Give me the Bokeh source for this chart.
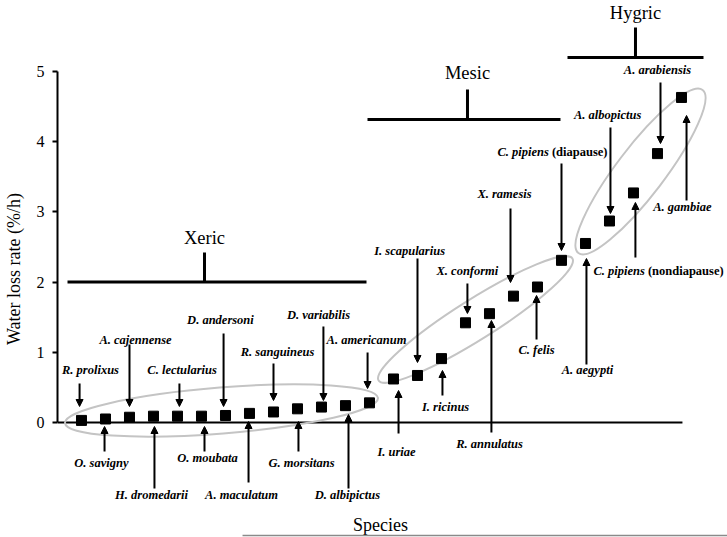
from bokeh.plotting import figure
from bokeh.models import ColumnDataSource, Arrow, NormalHead, FixedTicker, Range1d
from bokeh.embed import file_html
from bokeh.resources import INLINE
from bokeh.core.properties import value

# ---------------- data ----------------
species = ["R. prolixus", "O. savigny", "A. cajennense", "H. dromedarii", "C. lectularius",
           "O. moubata", "D. andersoni", "A. maculatum", "R. sanguineus", "G. morsitans",
           "D. variabilis", "D. albipictus", "A. americanum", "I. uriae", "I. scapularius",
           "I. ricinus", "X. conformi", "R. annulatus", "X. ramesis", "C. felis",
           "C. pipiens", "A. aegypti", "A. albopictus", "C. pipiens", "A. arabiensis",
           "A. gambiae"]
qualifier = [""] * 20 + ["(diapause)", "", "", "(nondiapause)", "", ""]
water_loss_rate = [0.03, 0.05, 0.075, 0.09, 0.09, 0.09, 0.10, 0.13, 0.15, 0.195,
                   0.22, 0.24, 0.28, 0.62, 0.67, 0.91, 1.42, 1.55, 1.80, 1.93,
                   2.31, 2.55, 2.87, 3.27, 3.83, 4.63]
habitats = ["Xeric", "Mesic", "Hygric"]
y_ticks = [0, 1, 2, 3, 4, 5]

# ---------------- annotation layout (data units) ----------------
# label x offset (index units), label y, arrow x offset, arrow tail y, arrow tip y
label_layout = [
    (0.375, 0.741, -0.08, 0.556, 0.228),
    (-0.17, -0.570, -0.04, -0.413, -0.057),
    (0.25, 1.182, 0.0, 1.111, 0.228),
    (-0.08, -1.026, 0.04, -0.940, -0.057),
    (0.19, 0.741, 0.08, 0.556, 0.228),
    (0.25, -0.499, 0.125, -0.413, -0.057),
    (-0.21, 1.453, -0.08, 1.268, 0.228),
    (-0.33, -1.026, -0.04, -0.855, 0.014),
    (0.17, 1.011, 0.0, 0.840, 0.313),
    (0.17, -0.570, 0.04, -0.413, 0.014),
    (-0.125, 1.538, 0.08, 1.368, 0.313),
    (0.08, -1.026, 0.125, -0.940, 0.114),
    (-0.125, 1.182, -0.08, 0.997, 0.484),
    (0.125, -0.427, 0.21, -0.157, 0.456),
    (-0.33, 2.450, 0.0, 2.336, 0.855),
    (0.17, 0.214, 0.04, 0.385, 0.741),
    (0.08, 2.165, 0.08, 1.980, 1.553),
    (0.0, -0.313, 0.08, -0.142, 1.453),
    (-0.375, 3.248, -0.125, 3.048, 1.994),
    (-0.04, 1.026, -0.04, 1.182, 1.809),
    (-0.525, 3.846, 0.0, 3.689, 2.450),
    (0.08, 0.741, 0.04, 0.826, 2.336),
    (-0.08, 4.387, 0.04, 4.202, 2.977),
    (0.475, 2.165, 0.08, 2.350, 3.134),
    (0.0, 5.014, 0.125, 4.843, 3.974),
    (0.04, 3.063, 0.21, 3.162, 4.373),
]
# habitat brackets: x0, x1, stem x, bar y, stem top y, text y
bracket_layout = [
    (-0.583, 11.875, 5.125, 2.0, 2.422, 2.635),
    (11.917, 19.958, 16.083, 4.316, 4.744, 4.972),
    (20.25, 25.917, 23.083, 5.199, 5.627, 5.84),
]
# group ellipses: center x, center y, width px, height px, angle rad
ellipse_layout = [
    (5.833, 0.171, 314, 46, 0.080),
    (16.417, 1.467, 229, 40, 0.562),
    (23.292, 3.575, 205, 48, 0.920),
]

FONT = value("Liberation Serif")

p = figure(width=727, height=537, output_backend="svg", toolbar_location=None,
           x_range=Range1d(-1, 26.917), y_range=Range1d(-1.638, 6.011),
           x_axis_type=None, min_border=0, min_border_left=57)
p.outline_line_color = None
p.xgrid.visible = False
p.ygrid.visible = False
p.background_fill_color = "white"

ax = p.yaxis[0]
ax.ticker = FixedTicker(ticks=y_ticks)
ax.bounds = (0, 5)
ax.axis_label = "Water loss rate (%/h)"
ax.axis_label_text_font = "Liberation Serif"
ax.axis_label_text_font_style = "normal"
ax.axis_label_text_font_size = "18px"
ax.axis_label_text_color = "black"
ax.axis_label_standoff = 10
ax.major_label_text_font = "Liberation Serif"
ax.major_label_text_font_size = "16px"
ax.major_label_text_color = "black"
ax.major_label_standoff = 8
ax.axis_line_width = 2
ax.axis_line_color = "black"
ax.major_tick_in = 0
ax.major_tick_out = 5
ax.major_tick_line_width = 2
ax.major_tick_line_color = "black"
ax.minor_tick_line_color = None

n = len(species)
idx = list(range(n))

# x axis line at zero
p.segment(x0=[-1], y0=[0], x1=[n - 0.96], y1=[0], line_color="black", line_width=2)

# ellipses
p.ellipse(x=[e[0] for e in ellipse_layout], y=[e[1] for e in ellipse_layout],
          width=[e[2] for e in ellipse_layout], height=[e[3] for e in ellipse_layout],
          angle=[e[4] for e in ellipse_layout], width_units="screen", height_units="screen",
          fill_color=None, line_color="#c4c4c4", line_width=2)

# brackets
bx0 = [b[0] for b in bracket_layout]
bx1 = [b[1] for b in bracket_layout]
bs = [b[2] for b in bracket_layout]
by = [b[3] for b in bracket_layout]
bt = [b[4] for b in bracket_layout]
btxt = [b[5] for b in bracket_layout]
p.segment(x0=bx0, y0=by, x1=bx1, y1=by, line_color="black", line_width=3)
p.segment(x0=bs, y0=by, x1=bs, y1=bt, line_color="black", line_width=3)
p.text(x=bs, y=btxt, text=habitats, text_font=FONT, text_font_size="18.5px",
       text_align="center", text_baseline="middle", text_color="black")

# points
p.scatter(x=idx, y=water_loss_rate, marker="square", size=10, color="black")

# arrows
asrc = ColumnDataSource(dict(
    x0=[i + l[2] for i, l in zip(idx, label_layout)],
    x1=[i + l[2] for i, l in zip(idx, label_layout)],
    y0=[l[3] for l in label_layout],
    y1=[l[4] for l in label_layout],
))
p.add_layout(Arrow(source=asrc, x_start="x0", y_start="y0", x_end="x1", y_end="y1",
                   line_width=2, line_color="black",
                   end=NormalHead(size=7, fill_color="black", line_color="black", line_width=1)))

# species labels
plain_x, plain_y, plain_t = [], [], []
q_x, q_y, q_name, q_qual = [], [], [], []
for i, (s, q, l) in enumerate(zip(species, qualifier, label_layout)):
    if q:
        q_x.append(i + l[0]); q_y.append(l[1]); q_name.append(s); q_qual.append(q)
    else:
        plain_x.append(i + l[0]); plain_y.append(l[1]); plain_t.append(s)

p.text(x=plain_x, y=plain_y, text=plain_t, text_font=FONT, text_font_style="bold italic",
       text_font_size="12.5px", text_align="center", text_baseline="middle", text_color="black")
p.text(x=q_x, y=q_y, text=q_name, text_font=FONT, text_font_style="bold italic",
       text_font_size="12.5px", text_align="right", text_baseline="middle", text_color="black")
p.text(x=q_x, y=q_y, text=q_qual, text_font=FONT, text_font_style="bold", x_offset=3,
       text_font_size="12.5px", text_align="left", text_baseline="middle", text_color="black")

# x label and bottom rule
p.text(x=[12.46], y=[-1.453], text=["Species"], text_font=FONT, text_font_size="18px",
       text_align="center", text_baseline="middle", text_color="black")
p.segment(x0=[6.71], y0=[-1.610], x1=[27], y1=[-1.610], line_color="#8a8a8a", line_width=1.5)

open("out.html", "w").write(file_html(p, INLINE))
